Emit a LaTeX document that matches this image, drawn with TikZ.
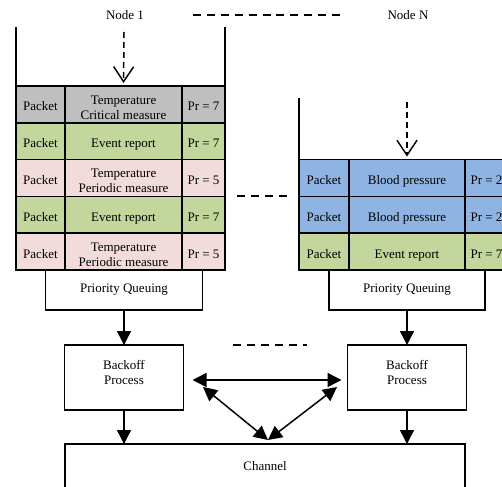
\documentclass[tikz,border=0pt]{standalone}
\usepackage{fontspec}
\setmainfont{Liberation Serif}
\usepackage{tikz}
\usetikzlibrary{arrows.meta}
\definecolor{critgray}{RGB}{191,191,191}
\definecolor{eventgreen}{RGB}{195,214,155}
\definecolor{periodpink}{RGB}{242,220,219}
\definecolor{bloodblue}{RGB}{141,180,226}
\tikzset{
    cell/.style={draw, line width=1.5pt, inner sep=0pt, outer sep=0pt, align=center, minimum height=36.8pt,
        execute at begin node={\rule{0pt}{16.5pt}}, execute at end node={\rule[-3.5pt]{0pt}{3.5pt}}},
    twoline/.style={execute at begin node={\rule{0pt}{33pt}}},
    box/.style={draw, line width=1.5pt, fill=white, inner sep=0pt, outer sep=0pt, align=center},
    wall/.style={line width=1.5pt},
    flow/.style={line width=1.5pt, -{Triangle[length=14pt,width=14pt]}},
    duplex/.style={line width=1.5pt, {Triangle[length=14pt,width=14pt]}-{Triangle[length=14pt,width=14pt]}},
    feed/.style={line width=1.5pt, dash pattern=on 6pt off 4pt, -{Straight Barb[length=15pt,width=20pt]}},
    gap/.style={line width=1.5pt, dash pattern=on 8pt off 5.9pt}}

\begin{document}
\begin{tikzpicture}[x=1pt, y=-1pt, font=\fontsize{13}{15}\selectfont]

    \useasboundingbox (0,0) rectangle (502,486);
    \clip (0,0) rectangle (502,486);

    % node 1 queue
    \node (N1) at (125,15) {Node 1};
    \node[cell, fill=critgray, minimum width=49pt] (P1) at (40.5,104.4) {Packet};
    \node[cell, twoline, fill=critgray, minimum width=117pt] (M1) at (123.5,104.4) {Temperature\\Critical measure};
    \node[cell, fill=critgray, minimum width=43pt] (R1) at (203.5,104.4) {Pr = 7};
    \node[cell, fill=eventgreen, minimum width=49pt] (P2) at (40.5,141.2) {Packet};
    \node[cell, fill=eventgreen, minimum width=117pt] (M2) at (123.5,141.2) {Event report};
    \node[cell, fill=eventgreen, minimum width=43pt] (R2) at (203.5,141.2) {Pr = 7};
    \node[cell, fill=periodpink, minimum width=49pt] (P3) at (40.5,178) {Packet};
    \node[cell, twoline, fill=periodpink, minimum width=117pt] (M3) at (123.5,178) {Temperature\\Periodic measure};
    \node[cell, fill=periodpink, minimum width=43pt] (R3) at (203.5,178) {Pr = 5};
    \node[cell, fill=eventgreen, minimum width=49pt] (P4) at (40.5,214.8) {Packet};
    \node[cell, fill=eventgreen, minimum width=117pt] (M4) at (123.5,214.8) {Event report};
    \node[cell, fill=eventgreen, minimum width=43pt] (R4) at (203.5,214.8) {Pr = 7};
    \node[cell, fill=periodpink, minimum width=49pt] (P5) at (40.5,251.6) {Packet};
    \node[cell, twoline, fill=periodpink, minimum width=117pt] (M5) at (123.5,251.6) {Temperature\\Periodic measure};
    \node[cell, fill=periodpink, minimum width=43pt] (R5) at (203.5,251.6) {Pr = 5};

    \draw[wall] (P1.north west) -- ++(0,-59);
    \draw[wall] (R1.north east) -- ++(0,-59);
    \coordinate (F1) at (124,32);
    \draw[feed, shorten >=3pt] (F1) -- (M1.north);

    % node N queue
    \node (N2) at (408,15) {Node N};
    \node[cell, fill=bloodblue, minimum width=50pt] (P6) at (324,178) {Packet};
    \node[cell, fill=bloodblue, minimum width=116pt] (M6) at (407,178) {Blood pressure};
    \node[cell, fill=bloodblue, minimum width=43pt] (R6) at (486.5,178) {Pr = 2};
    \node[cell, fill=bloodblue, minimum width=50pt] (P7) at (324,214.8) {Packet};
    \node[cell, fill=bloodblue, minimum width=116pt] (M7) at (407,214.8) {Blood pressure};
    \node[cell, fill=bloodblue, minimum width=43pt] (R7) at (486.5,214.8) {Pr = 2};
    \node[cell, fill=eventgreen, minimum width=50pt] (P8) at (324,251.6) {Packet};
    \node[cell, fill=eventgreen, minimum width=116pt] (M8) at (407,251.6) {Event report};
    \node[cell, fill=eventgreen, minimum width=43pt] (R8) at (486.5,251.6) {Pr = 7};

    \draw[wall] (P6.north west) -- ++(0,-62);
    \draw[wall] (R6.north east) -- ++(0,-62);
    \coordinate (F2) at (407,102);
    \draw[feed, shorten >=3pt] (F2) -- (M6.north);

    % dots between the nodes
    \draw[gap] (193,15) -- (340,15);
    \draw[gap] (237,196) -- (287,196);
    \draw[gap] (233,345) -- (307,345);

    % queuing, backoff and channel
    \node[box, minimum width=157pt, minimum height=40pt] (Q1) at (124,290) {Priority Queuing};
    \node[box, minimum width=156pt, minimum height=40pt] (Q2) at (407,290) {Priority Queuing};
    \node[box, minimum width=119pt, minimum height=65pt, execute at end node={\rule[-10pt]{0pt}{10pt}}] (B1) at (124,377.5) {Backoff\\Process};
    \node[box, minimum width=119pt, minimum height=65pt, execute at end node={\rule[-10pt]{0pt}{10pt}}] (B2) at (407,377.5) {Backoff\\Process};
    \node[box, minimum width=400pt, minimum height=70pt, text depth=26pt, anchor=north] (C) at (265,444) {Channel};

    \draw[flow] (Q1) -- (B1);
    \draw[flow] (Q2) -- (B2);
    \draw[flow] (B1) -- (B1 |- C.north);
    \draw[flow] (B2) -- (B2 |- C.north);

    \coordinate (U1) at (203,387);
    \coordinate (U2) at (337,387);
    \coordinate (K) at (268,440);
    \draw[duplex, shorten <=9pt, shorten >=6pt] ([yshift=-2.5pt]B1.east) -- ([yshift=-2.5pt]B2.west);
    \draw[duplex] (U1) -- (K);
    \draw[duplex] (U2) -- (K);

\end{tikzpicture}
\end{document}
